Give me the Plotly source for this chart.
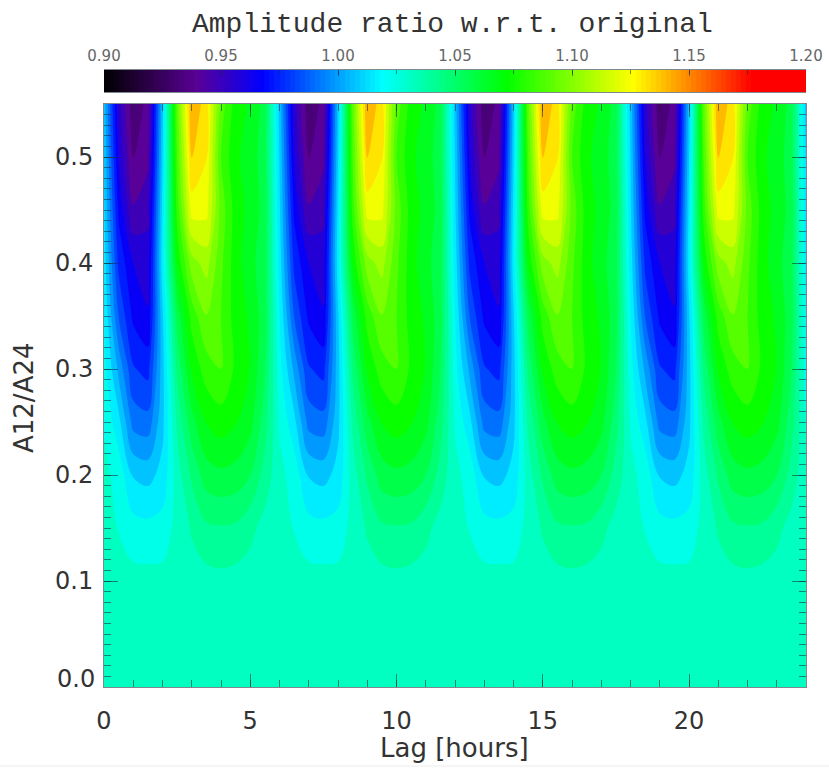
import plotly.graph_objects as go

lag_hours = [i * 0.5 for i in range(49)]
ratio_a12_a24 = [0.0, 0.05, 0.1, 0.15, 0.2, 0.25, 0.3, 0.35, 0.4, 0.45, 0.5, 0.55]

# one 6-hour cycle of the pattern (lags 0, 0.5 ... 5.5), one row per A12/A24 value
row_000 = [1.036, 1.036, 1.036, 1.036, 1.036, 1.036, 1.036, 1.036, 1.036, 1.036, 1.036, 1.036]
row_005 = [1.036, 1.036, 1.0358, 1.0355, 1.0358, 1.036, 1.036, 1.0365, 1.037, 1.0365, 1.036, 1.036]
row_010 = [1.036, 1.0355, 1.0347, 1.0347, 1.0347, 1.036, 1.037, 1.037, 1.0378, 1.037, 1.0365, 1.036]
row_015 = [1.036, 1.0315, 1.027, 1.026, 1.027, 1.035, 1.041, 1.047, 1.0477, 1.047, 1.0425, 1.037]
row_020 = [1.034, 1.029, 1.0145, 1.0125, 1.018, 1.036, 1.05, 1.061, 1.0632, 1.062, 1.057, 1.045]
row_025 = [1.031, 1.018, 0.9955, 0.9935, 1.013, 1.042, 1.062, 1.074, 1.0777, 1.074, 1.068, 1.052]
row_030 = [1.027, 1.005, 0.983, 0.979, 1.012, 1.05, 1.075, 1.086, 1.09, 1.08, 1.073, 1.057]
row_035 = [1.024, 0.990, 0.972, 0.9665, 1.014, 1.06, 1.085, 1.098, 1.09, 1.078, 1.072, 1.06]
row_040 = [1.02, 0.98, 0.9655, 0.961, 1.02, 1.075, 1.103, 1.11, 1.092, 1.077, 1.068, 1.06]
row_045 = [1.017, 0.972, 0.95, 0.955, 1.018, 1.085, 1.127, 1.126, 1.095, 1.078, 1.07, 1.062]
row_050 = [1.015, 0.965, 0.94, 0.947, 1.015, 1.09, 1.14, 1.132, 1.09, 1.075, 1.07, 1.06]
row_055 = [1.012, 0.96, 0.935, 0.943, 1.012, 1.095, 1.148, 1.135, 1.095, 1.078, 1.072, 1.062]
cycle_rows = [row_000, row_005, row_010, row_015, row_020, row_025, row_030, row_035,
              row_040, row_045, row_050, row_055]
amplitude = [r * 4 + [r[0]] for r in cycle_rows]

colorscale_stops = [0.9, 0.94, 0.968, 1.019, 1.072, 1.126, 1.177, 1.2]
colorscale_colors = ["#000000", "#5a0096", "#0000ff", "#00ffff", "#00ff00", "#ffff00", "#ff0000", "#ff0000"]
zmin, zmax = 0.9, 1.2
bar_scale = [[(s - zmin) / (zmax - zmin), c] for s, c in zip(colorscale_stops, colorscale_colors)]

level_start = 0.8991
level_size = 0.0083
level_end = 1.2
# plotly stretches a filled contour's colours from the first level over all bands,
# and paints each band with the colour of its upper edge
span = (int((level_end - level_start) / level_size) + 1) * level_size
contour_scale = ([[0, "#000000"]]
                 + [[min((s + level_size - level_start) / span, 1), c]
                    for s, c in zip(colorscale_stops, colorscale_colors)]
                 + [[1, "#ff0000"]])

bar_ticks = [0.90, 0.95, 1.00, 1.05, 1.10, 1.15, 1.20]
bar_labels = ["0.90", "0.95", "1.00", "1.05", "1.10", "1.15", "1.20"]
bar_values = [0.9 + (i + 0.5) * 0.3 / 140 for i in range(140)]
x_ticks = [0, 5, 10, 15, 20]
x_labels = ["0", "5", "10", "15", "20"]
y_ticks = [0.0, 0.1, 0.2, 0.3, 0.4, 0.5]
y_labels = ["", "0.1", "0.2", "0.3", "0.4", "0.5"]

W, H = 829, 769
TICK = "rgba(20,40,50,0.55)"
SANS = "DejaVu Sans"
INK = "#333"

fig = go.Figure()
fig.add_trace(go.Contour(
    x=lag_hours, y=ratio_a12_a24, z=amplitude, xaxis="x", yaxis="y",
    colorscale=contour_scale, autocontour=False, showscale=False,
    contours=dict(coloring="fill", start=level_start, end=level_end, size=level_size, showlines=False),
    line=dict(width=0), hoverinfo="skip"))
fig.add_trace(go.Heatmap(
    x=bar_values, y=[0, 1], z=[bar_values, bar_values], xaxis="x2", yaxis="y2",
    colorscale=bar_scale, zmin=zmin, zmax=zmax, showscale=False, hoverinfo="skip"))

def label(text, px, py, size, family=SANS, angle=0):
    return dict(text=text, x=px / W, y=1 - py / H, xref="paper", yref="paper",
                xanchor="center", yanchor="middle", textangle=angle, showarrow=False,
                font=dict(size=size, family=family, color=INK))

fig.update_layout(
    width=W, height=H, margin=dict(l=0, r=0, t=0, b=0, autoexpand=False),
    paper_bgcolor="white", plot_bgcolor="white", showlegend=False,
    font=dict(family=SANS, color=INK),
    xaxis=dict(domain=[104 / W, 806 / W], range=[0, 24], anchor="y", automargin=False,
               tickmode="array", tickvals=x_ticks, ticktext=x_labels,
               ticks="inside", ticklen=13, tickwidth=1, tickcolor=TICK,
               tickfont=dict(size=24, family=SANS, color=INK), ticklabelstandoff=12,
               minor=dict(dtick=1, ticks="inside", ticklen=7, tickwidth=1, tickcolor=TICK),
               showline=True, linecolor=TICK, linewidth=1, mirror="ticks", showgrid=False, zeroline=False),
    yaxis=dict(domain=[1 - 687 / H, 1 - 104 / H], range=[0, 0.55], anchor="x", automargin=False,
               tickmode="array", tickvals=y_ticks, ticktext=y_labels,
               ticks="inside", ticklen=14, tickwidth=1, tickcolor=TICK,
               tickfont=dict(size=24, family=SANS, color=INK), ticklabelstandoff=5,
               minor=dict(dtick=0.01, ticks="inside", ticklen=7, tickwidth=1, tickcolor=TICK),
               showline=True, linecolor=TICK, linewidth=1, mirror="ticks", showgrid=False, zeroline=False),
    xaxis2=dict(domain=[104 / W, 806 / W], range=[0.9, 1.2], anchor="y2", side="top", automargin=False,
                tickmode="array", tickvals=bar_ticks, ticktext=bar_labels,
                ticks="inside", ticklen=6, tickwidth=1, tickcolor=TICK,
                tickfont=dict(size=15, family=SANS, color="#666"), ticklabelstandoff=2,
                minor=dict(dtick=0.025, ticks="inside", ticklen=4, tickwidth=1, tickcolor=TICK),
                showline=True, linecolor=TICK, linewidth=1, mirror=True, showgrid=False, zeroline=False),
    yaxis2=dict(domain=[1 - 92 / H, 1 - 70 / H], range=[0, 1], anchor="x2", visible=False),
    annotations=[
        dict(text="0.0", x=0, xref="x", y=0, yref="y", xanchor="right", yanchor="middle",
             xshift=-7, yshift=8, showarrow=False, font=dict(size=24, family=SANS, color=INK)),
        label("Lag [hours]", 454, 748, 26),
        label("A12/A24", 24, 398, 26, angle=-90),
        label("Amplitude ratio w.r.t. original", 452, 24, 28, family="Liberation Mono"),
    ],
    shapes=[dict(type="line", xref="paper", yref="paper", x0=0, x1=1, y0=1 - 766 / H, y1=1 - 766 / H,
                 line=dict(color="#ececec", width=1))],
)

fig.write_html("out.html", post_script="document.body.style.margin='0';", config=dict(displayModeBar=False))
